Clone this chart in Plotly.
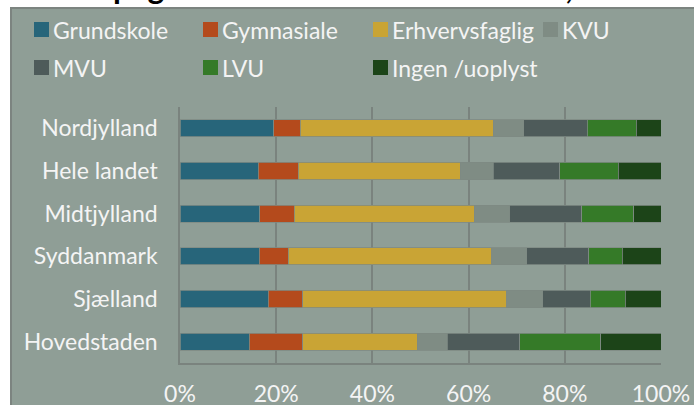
import plotly.graph_objects as go

regions = ["Nordjylland", "Hele landet", "Midtjylland", "Syddanmark", "Sjælland", "Hovedstaden"]
series_names = ["Grundskole", "Gymnasiale", "Erhvervsfaglig", "KVU", "MVU", "LVU", "Ingen /uoplyst"]
grundskole = [19.5, 16.2, 16.5, 16.5, 18.3, 14.4]
gymnasiale = [5.4, 8.4, 7.2, 6.0, 7.2, 11.1]
erhvervsfaglig = [40.1, 33.6, 37.4, 42.2, 42.3, 23.7]
kvu = [6.3, 6.9, 7.3, 7.3, 7.5, 6.3]
mvu = [13.2, 13.8, 15.0, 12.9, 9.8, 15.0]
lvu = [10.2, 12.1, 10.7, 7.0, 7.3, 16.8]
ingen = [5.1, 8.9, 5.7, 8.0, 7.4, 12.5]
tick_vals = [0, 20, 40, 60, 80, 100]
tick_text = ["0%", "20%", "40%", "60%", "80%", "100%"]
title_text = "pågældende uddannelsesniveau, 2010"

series_values = [grundskole, gymnasiale, erhvervsfaglig, kvu, mvu, lvu, ingen]
colors = ["#27657A", "#B44A1C", "#C9A435", "#7F8C84", "#4E5B5A", "#357A28", "#1C4418"]

W, H = 694, 405
L, R, T, B = 180, 33, 107, 42
PW, PH = W - L - R, H - T - B

def px(x):
    return (x - L) / PW

def py(y):
    return (H - B - y) / PH

FONT = "Lato"
WHITE = "#F4F4F4"
BG = "#8F9E96"
BORDER = "#7C8480"
FS = 23

fig = go.Figure()
for name, vals, col in zip(series_names, series_values, colors):
    fig.add_trace(go.Bar(
        y=regions, x=vals, name=name, orientation="h",
        marker=dict(color=col, line=dict(color="#7E8983", width=0.8)),
        showlegend=False,
    ))

shapes = [dict(type="rect", xref="paper", yref="paper", layer="below",
               x0=px(11), x1=px(700), y0=py(410), y1=py(8),
               fillcolor=BG, line=dict(color=BORDER, width=2))]
annotations = []

# title (only its lower part is visible at the top edge)
annotations.append(dict(text="<b>" + title_text + "</b>", xref="paper", yref="paper",
                        x=px(384), y=py(8.5), xanchor="center", yanchor="bottom",
                        showarrow=False, font=dict(family=FONT, size=32, color="#000000")))
# chart-box top edge drawn over the title's descenders
annotations.append(dict(text=" ", xref="paper", yref="paper", x=px(10), y=py(7),
                        xanchor="left", yanchor="top", showarrow=False,
                        width=690, height=2, borderpad=0, borderwidth=0, bgcolor=BORDER,
                        font=dict(size=1)))
annotations.append(dict(text=" ", xref="paper", yref="paper", x=px(12), y=py(9),
                        xanchor="left", yanchor="top", showarrow=False,
                        width=688, height=7, borderpad=0, borderwidth=0, bgcolor=BG,
                        font=dict(size=1)))

legend_cols = [34, 203, 373, 543]
legend_rows = [29.5, 67.5]
for i, (name, col) in enumerate(zip(series_names, colors)):
    r, c = divmod(i, 4)
    x0 = legend_cols[c]
    yc = legend_rows[r]
    shapes.append(dict(type="rect", xref="paper", yref="paper",
                       x0=px(x0), x1=px(x0 + 15), y0=py(yc + 7.5), y1=py(yc - 7.5),
                       fillcolor=col, line=dict(width=0)))
    annotations.append(dict(text=name, xref="paper", yref="paper", x=px(x0 + 17), y=py(yc),
                            xanchor="left", yanchor="middle", showarrow=False,
                            font=dict(family=FONT, size=FS, color=WHITE)))

fig.update_layout(
    width=W, height=H,
    margin=dict(l=L, r=R, t=T, b=B, pad=0, autoexpand=False),
    barmode="stack", barnorm="percent", bargap=0.6,
    paper_bgcolor="#FFFFFF", plot_bgcolor="rgba(0,0,0,0)",
    shapes=shapes, annotations=annotations,
    font=dict(family=FONT, size=FS, color=WHITE),
    xaxis=dict(range=[0, 100], tickvals=tick_vals, ticktext=tick_text,
               showgrid=True, gridcolor="#7A837E", gridwidth=1.5,
               showline=True, linecolor="#7A837E", linewidth=1.5,
               zeroline=False, ticks="", ticklabelstandoff=10, automargin=False,
               tickfont=dict(family=FONT, size=FS, color=WHITE)),
    yaxis=dict(autorange="reversed", showgrid=False, showline=True,
               linecolor="#7A837E", linewidth=1.5, ticks="", ticklabelstandoff=16,
               automargin=False,
               tickfont=dict(family=FONT, size=FS, color=WHITE)),
)

fig.write_html("out.html", config={"displayModeBar": False},
               post_script="document.body.style.margin='0';document.body.style.overflow='hidden';")
